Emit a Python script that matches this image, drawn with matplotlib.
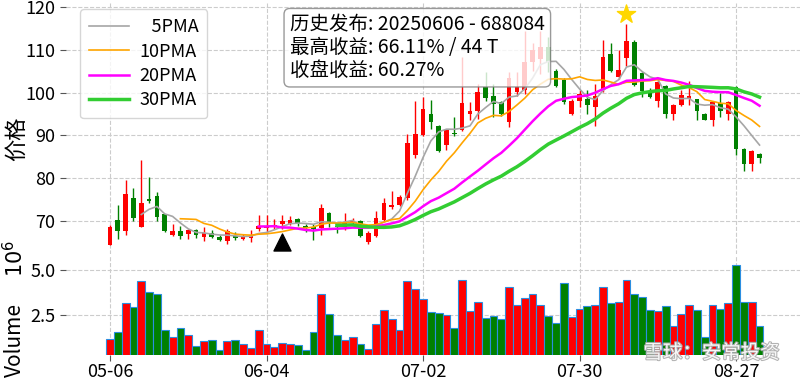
import numpy as np
import pandas as pd
import matplotlib
matplotlib.use('Agg')
import matplotlib.pyplot as plt
from matplotlib import patheffects as pe
from matplotlib.ticker import FuncFormatter

plt.rcParams['font.family'] = ['Noto Sans CJK SC', 'DejaVu Sans']
plt.rcParams['axes.unicode_minus'] = False

# ---------------- data ----------------
dates = pd.bdate_range('2025-05-06', '2025-09-01')
dates = dates[dates != pd.Timestamp('2025-06-02')]   # Dragon Boat holiday

opens = [64.4, 70.2, 67.7, 75.3, 68.7, 75.1, 75.8, 71.6, 66.7, 67.7,
         66.9, 67.9, 66.2, 67.3, 66.3, 65.3, 66.6, 65.7, 66.0, 68.1,
         68.4, 68.5, 69.3, 69.4, 70.5, 68.9, 68.7, 68.3, 71.8, 68.8,
         68.5, 69.6, 70.1, 65.2, 66.5, 70.2, 73.2, 73.7, 75.3, 85.3,
         90.0, 95.0, 92.3, 87.7, 90.5, 91.3, 95.0, 95.6, 101.2, 99.3,
         97.7, 93.1, 100.1, 100.5, 107.1, 107.8, 110.7, 105.1, 103.0, 95.0,
         98.1, 98.4, 96.6, 100.9, 109.0, 103.7, 108.1, 111.9, 104.5, 99.8,
         98.0, 101.6, 95.0, 97.0, 98.6, 98.4, 95.0, 93.7, 97.5, 95.0,
         101.2, 86.7, 83.4, 85.6]
closes = [68.6, 67.7, 76.4, 70.6, 74.3, 74.7, 71.0, 67.7, 67.7, 66.6,
          67.9, 66.8, 67.1, 66.3, 65.6, 67.7, 66.0, 66.3, 66.7, 68.8,
          68.8, 69.1, 70.0, 70.2, 69.5, 68.3, 68.2, 73.0, 69.5, 68.5,
          69.6, 70.1, 66.5, 67.3, 70.6, 74.3, 73.7, 75.7, 88.1, 90.4,
          96.2, 93.1, 86.3, 91.2, 90.3, 97.5, 95.8, 100.1, 98.8, 97.4,
          95.0, 103.4, 101.4, 107.1, 109.9, 110.7, 107.1, 101.6, 97.7, 98.1,
          99.7, 97.2, 99.1, 108.2, 105.1, 105.3, 112.0, 101.8, 100.3, 98.9,
          102.4, 95.0, 97.0, 99.5, 99.3, 95.7, 93.7, 97.7, 95.8, 97.7,
          86.7, 83.4, 86.3, 84.6]
highs = [69.1, 73.7, 79.5, 77.6, 84.2, 80.3, 76.8, 71.7, 69.3, 68.8,
         68.2, 68.2, 68.7, 67.8, 66.7, 68.1, 67.5, 67.0, 67.9, 71.4,
         71.4, 70.5, 71.4, 71.2, 70.6, 69.3, 69.3, 74.0, 72.0, 69.2,
         71.8, 70.6, 70.3, 67.6, 72.4, 75.3, 77.0, 76.0, 90.4, 98.1,
         98.9, 98.3, 92.5, 91.4, 94.3, 108.2, 97.7, 102.0, 104.7, 102.0,
         98.0, 104.7, 104.7, 114.4, 111.5, 114.4, 112.9, 105.4, 103.3, 98.5,
         100.5, 100.5, 102.0, 112.3, 111.5, 109.9, 116.1, 112.2, 104.7, 101.1,
         103.0, 101.8, 97.3, 100.6, 102.8, 98.6, 95.2, 98.0, 99.8, 98.0,
         101.6, 87.0, 86.6, 85.9]
lows = [64.3, 65.8, 66.7, 70.0, 68.6, 74.3, 70.0, 67.5, 66.6, 65.7,
        65.7, 66.0, 65.4, 66.0, 65.4, 64.7, 65.5, 65.5, 65.2, 67.6,
        67.3, 68.2, 68.2, 69.0, 68.8, 67.5, 65.6, 66.7, 68.6, 67.3,
        67.8, 69.2, 66.2, 64.7, 66.2, 70.0, 72.8, 73.4, 75.0, 84.7,
        89.8, 91.6, 86.1, 86.5, 89.9, 91.0, 93.5, 93.9, 98.1, 94.3,
        94.6, 91.9, 99.3, 99.7, 105.1, 104.3, 104.7, 101.3, 97.3, 94.7,
        96.6, 95.0, 92.1, 100.1, 104.9, 103.2, 106.3, 101.5, 98.9, 98.7,
        96.7, 94.1, 93.5, 96.8, 97.0, 93.5, 93.5, 92.1, 94.3, 93.7,
        85.5, 81.7, 81.7, 83.6]
volumes_m = [1.17, 1.57, 3.15, 2.93, 4.37, 3.76, 3.69, 1.70, 1.31, 1.76,
             1.41, 0.81, 1.07, 1.13, 0.57, 1.07, 1.13, 0.87, 0.67, 1.67,
             0.87, 0.72, 0.96, 0.87, 0.83, 0.57, 1.57, 3.69, 2.56, 1.41,
             1.13, 1.28, 0.87, 0.63, 1.98, 2.80, 2.30, 1.67, 4.37, 3.93,
             3.37, 2.67, 2.61, 2.48, 1.76, 4.43, 2.74, 3.24, 2.35, 2.44,
             2.30, 4.06, 3.09, 3.43, 3.65, 3.04, 2.44, 2.06, 4.26, 2.39,
             2.85, 3.00, 3.09, 4.06, 3.20, 3.24, 4.46, 3.69, 3.52, 2.76,
             2.72, 2.98, 1.91, 2.54, 3.04, 2.80, 1.31, 3.09, 2.83, 3.15,
             5.26, 3.24, 3.24, 1.91]

ma_windows = [5, 10, 20, 30]
ma_labels = ['\u20075PMA', '10PMA', '20PMA', '30PMA']
ma_colors = ['#a6a6a6', 'orange', 'magenta', 'limegreen']
ma_widths = [1.2, 1.2, 1.8, 2.5]

tick_labels = ['05-06', '06-04', '07-02', '07-30', '08-27']
release_idx = 22          # 2025-06-06
info_text = '历史发布: 20250606 - 688084\n最高收益: 66.11% / 44 T\n收盘收益: 60.27%'

# ---------------- derived ----------------
df = pd.DataFrame({'open': opens, 'high': highs, 'low': lows,
                   'close': closes, 'volume': np.array(volumes_m) * 1e6},
                  index=dates[:len(opens)])
x = np.arange(len(df))
up = df['close'] >= df['open']
colors = np.where(up, 'red', 'green')

fig = plt.figure(figsize=(8.0, 3.82), dpi=100)
W, H = 800, 382
ax = fig.add_axes([66 / W, 1 - 254 / H, 734 / W, 251 / H])
axv = fig.add_axes([66 / W, 1 - 355 / H, 734 / W, 99 / H], sharex=ax)

# candles
ax.vlines(x, df['low'], df['high'], colors=colors, lw=1.0, zorder=2)
ax.bar(x, (df['close'] - df['open']).abs().clip(lower=0.15),
       bottom=np.minimum(df['open'], df['close']), width=0.6,
       color=colors, zorder=3)

# moving averages
for w, lab, c, lw in zip(ma_windows, ma_labels, ma_colors, ma_widths):
    ax.plot(x, df['close'].rolling(w).mean(), color=c, lw=lw, label=lab, zorder=4)

# markers
imax = int(df['high'].values.argmax())
ax.scatter([imax], [df['high'].iloc[imax] * 1.02], marker='*', s=190,
           color='gold', zorder=6)
ax.scatter([release_idx], [df['low'].iloc[release_idx] * 0.955], marker='^',
           s=150, color='black', zorder=6)

ax.set_ylim(62.3, 120.9)
ax.set_xlim(-5.62, 88.17)
ax.set_yticks([70, 80, 90, 100, 110, 120])
ax.grid(True, ls='--', color='#cccccc', lw=0.8)
for s in ax.spines.values():
    s.set_visible(False)
ax.tick_params(axis='x', length=0, labelbottom=False)
ax.tick_params(axis='y', length=4, color='#555555', labelsize=13)
ax.set_ylabel('价格', fontsize=16)
ax.yaxis.set_label_coords(-0.052, 0.46)

leg = ax.legend(loc='upper left', bbox_to_anchor=(0.019, 0.975),
                borderaxespad=0, fontsize=13, handlelength=2.2,
                handletextpad=0.6, labelspacing=0.35, borderpad=0.5,
                framealpha=0.8, edgecolor='#cccccc')

ax.text(0.305, 0.955, info_text, transform=ax.transAxes, va='top', ha='left',
        fontsize=14, linespacing=1.12, zorder=10,
        bbox=dict(boxstyle='round,pad=0.3', fc='white', ec='gray', alpha=0.8))

# volume
axv.bar(x, df['volume'], width=1.0, color=colors, edgecolor='#2b8ee0',
        linewidth=0.8, zorder=3)
axv.set_ylim(df['volume'].min() * 0.5, df['volume'].max() * 1.1)
axv.set_yticks([2.5e6, 5.0e6])
axv.yaxis.set_major_formatter(FuncFormatter(lambda v, p: f'{v / 1e6:.1f}'))
axv.grid(True, ls='--', color='#cccccc', lw=0.8)
for s in axv.spines.values():
    s.set_visible(False)
axv.set_xticks(x[::20])
axv.set_xticklabels([df.index[i].strftime('%m-%d') for i in x[::20]])
axv.tick_params(axis='x', length=4, color='#555555', labelsize=13, pad=2)
axv.tick_params(axis='y', length=4, color='#555555', labelsize=13)
axv.set_ylabel('Volume', fontsize=15)
axv.yaxis.set_label_coords(-0.055, 0.15)
fig.text(16 / W, 1 - 258 / H, r'$10^{6}$', rotation=90, ha='center',
         va='center', fontsize=15)

# watermark
fig.text(0.975, 1 - 353 / H, '雪球：安常投资', ha='right', va='center',
         fontsize=14, color='white', alpha=0.9,
         path_effects=[pe.withStroke(linewidth=1.5, foreground='#aaaaaa')])

fig.savefig('out.png', dpi=100)
